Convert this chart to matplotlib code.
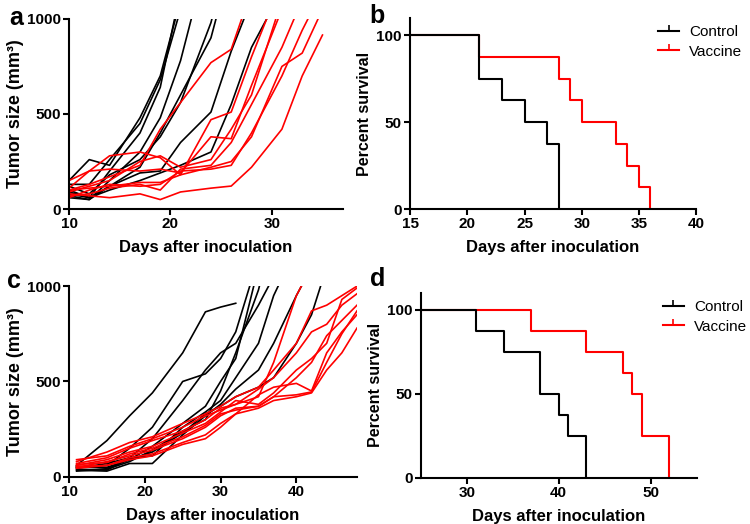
import matplotlib
matplotlib.use('Agg')
import matplotlib.pyplot as plt
from matplotlib.lines import Line2D
import numpy as np

plt.rcParams['font.family'] = ['Liberation Sans', 'DejaVu Sans']

N = np.nan

# ---- panel a: tumor growth, first experiment ----
days_a = [10, 12, 14, 17, 19, 21, 24, 26, 28, 31, 33, 35]
control_a = [
    [150, 260, 230, 480, 700, 1100, N, N, N, N, N, N],
    [130, 130, 260, 450, 680, 1050, N, N, N, N, N, N],
    [100, 60, 200, 400, 640, 1150, N, N, N, N, N, N],
    [70, 50, 150, 300, 480, 780, 1400, N, N, N, N, N],
    [120, 80, 180, 260, 380, 560, 980, 1400, N, N, N, N],
    [90, 60, 120, 220, 400, 600, 900, 1300, N, N, N, N],
    [60, 50, 120, 190, 200, 350, 510, 830, 1100, N, N, N],
    [80, 60, 100, 150, 190, 230, 300, 550, 850, 1150, N, N],
]
vaccine_a = [
    [100, 130, 170, 230, 420, 560, 770, 840, 1150, N, N, N],
    [150, 200, 280, 300, 270, 180, 470, 510, 800, 1200, N, N],
    [110, 200, 210, 200, 210, 190, 380, 370, 650, 1050, N, N],
    [90, 120, 150, 250, 280, 220, 260, 420, 600, 1100, N, N],
    [70, 80, 110, 130, 100, 210, 230, 350, 550, 850, 1100, N],
    [60, 100, 130, 120, 130, 200, 210, 230, 400, 700, 940, 1150],
    [100, 110, 120, 140, 140, 180, 220, 250, 380, 750, 820, 1050],
    [80, 70, 60, 80, 50, 90, 110, 121, 220, 420, 700, 915],
]

# ---- panel b: survival, first experiment ----
surv_b_ctrl_t = [0, 21, 23, 25, 27, 28]
surv_b_ctrl = [100, 75, 62.5, 50, 37.5, 0]
surv_b_vac_t = [0, 21, 28, 29, 30, 33, 34, 35, 36]
surv_b_vac = [100, 87.5, 75, 62.5, 50, 37.5, 25, 12.5, 0]

# ---- panel c: tumor growth, second experiment ----
days_c = [11, 15, 18, 21, 25, 28, 30, 32, 35, 37, 40, 42, 44, 46, 48]
control_c = [
    [60, 190, 320, 440, 650, 865, 890, 910, N, N, N, N, N, N, N],
    [50, 60, 150, 260, 500, 540, 620, 760, 1150, N, N, N, N, N, N],
    [40, 35, 100, 200, 400, 560, 650, 700, 900, 1050, N, N, N, N, N],
    [50, 50, 90, 160, 280, 370, 500, 620, 1100, N, N, N, N, N, N],
    [30, 40, 80, 140, 240, 300, 450, 650, 980, 1300, N, N, N, N, N],
    [45, 70, 100, 110, 260, 340, 400, 520, 700, 950, 1200, N, N, N, N],
    [35, 30, 70, 70, 220, 320, 380, 460, 560, 700, 950, 1100, N, N, N],
    [55, 45, 90, 130, 230, 330, 370, 420, 470, 520, 700, 850, 1100, N, N],
]
vaccine_c = [
    [90, 110, 160, 200, 260, 320, 350, 380, 420, 600, 950, 1100, N, N, N],
    [80, 130, 180, 210, 280, 330, 370, 420, 470, 560, 700, 870, 900, 950, 1000],
    [70, 100, 150, 190, 240, 300, 360, 380, 460, 520, 650, 760, 800, 900, 960],
    [60, 90, 130, 160, 230, 280, 340, 400, 380, 440, 560, 620, 700, 930, 990],
    [50, 80, 110, 140, 200, 260, 320, 360, 370, 420, 520, 600, 740, 820, 900],
    [45, 60, 100, 120, 180, 220, 280, 330, 430, 470, 490, 450, 650, 760, 850],
    [65, 75, 120, 150, 210, 270, 330, 350, 370, 420, 430, 445, 600, 750, 870],
    [55, 60, 90, 110, 170, 200, 260, 330, 360, 400, 420, 440, 560, 650, 780],
]

# ---- panel d: survival, second experiment ----
surv_d_ctrl_t = [0, 31, 34, 38, 40, 41, 43]
surv_d_ctrl = [100, 87.5, 75, 50, 37.5, 25, 0]
surv_d_vac_t = [0, 37, 43, 47, 48, 49, 52]
surv_d_vac = [100, 87.5, 75, 62.5, 50, 25, 0]

BLACK = '#000000'
RED = '#ff0000'


def style_axes(ax):
    for s in ['top', 'right']:
        ax.spines[s].set_visible(False)
    for s in ['left', 'bottom']:
        ax.spines[s].set_linewidth(1.5)
    ax.tick_params(width=1.5, length=4.5, pad=1.5, labelsize=11)
    for lab in ax.get_xticklabels() + ax.get_yticklabels():
        lab.set_fontweight('bold')


def km_steps(times, surv):
    xs, ys = [times[0]], [surv[0]]
    for i in range(1, len(times)):
        xs += [times[i], times[i]]
        ys += [surv[i - 1], surv[i]]
    return xs, ys


def growth_panel(ax, days, ctrl, vac, xlim, xticks):
    for row in ctrl:
        ax.plot(days, row, color=BLACK, lw=1.2)
    for row in vac:
        ax.plot(days, row, color=RED, lw=1.2)
    ax.set_xlim(*xlim)
    ax.set_ylim(0, 1000)
    ax.set_xticks(xticks)
    ax.set_yticks([0, 500, 1000])
    ax.set_xlabel('Days after inoculation', fontsize=12, fontweight='bold', labelpad=6)
    ax.set_ylabel('Tumor size (mm³)', fontsize=13, fontweight='bold', labelpad=2)
    style_axes(ax)


def survival_panel(ax, ct, cs, vt, vs, xlim, xticks, legend_anchor):
    x, y = km_steps(vt, vs)
    ax.plot(x, y, color=RED, lw=1.5)
    x, y = km_steps(ct, cs)
    ax.plot(x, y, color=BLACK, lw=1.5)
    ax.set_xlim(*xlim)
    ax.set_ylim(0, 110)
    ax.set_xticks(xticks)
    ax.set_yticks([0, 50, 100])
    ax.set_xlabel('Days after inoculation', fontsize=12, fontweight='bold', labelpad=6)
    ax.set_ylabel('Percent survival', fontsize=11.5, fontweight='bold', labelpad=3)
    style_axes(ax)
    handles = [Line2D([], [], color=BLACK, lw=1.5, marker=2, markersize=4, markeredgewidth=1.2),
               Line2D([], [], color=RED, lw=1.5, marker=2, markersize=4, markeredgewidth=1.2)]
    leg = ax.legend(handles, ['Control', 'Vaccine'], loc='upper left',
                    bbox_to_anchor=legend_anchor, frameon=False, fontsize=11,
                    handlelength=1.4, handletextpad=0.65, labelspacing=0.35,
                    borderpad=0, borderaxespad=0, numpoints=1)
    leg.set_clip_on(False)


fig = plt.figure(figsize=(7.5, 5.24), dpi=100)

ax_a = fig.add_axes([0.092, 0.601, 0.365, 0.363])
growth_panel(ax_a, days_a, control_a, vaccine_a, (10, 37), [10, 20, 30])

ax_b = fig.add_axes([0.547, 0.601, 0.381, 0.365])
survival_panel(ax_b, surv_b_ctrl_t, surv_b_ctrl, surv_b_vac_t, surv_b_vac,
               (15, 40), [15, 20, 25, 30, 35, 40], (0.867, 0.96))

ax_c = fig.add_axes([0.092, 0.090, 0.384, 0.364])
growth_panel(ax_c, days_c, control_c, vaccine_c, (10, 48), [10, 20, 30, 40])

ax_d = fig.add_axes([0.561, 0.088, 0.368, 0.353])
survival_panel(ax_d, surv_d_ctrl_t, surv_d_ctrl, surv_d_vac_t, surv_d_vac,
               (25, 55), [30, 40, 50], (0.877, 0.96))

for letter, x, y in [('a', 0.012, 0.988), ('b', 0.493, 0.992),
                     ('c', 0.010, 0.486), ('d', 0.493, 0.490)]:
    fig.text(x, y, letter, fontsize=18, fontweight='bold', va='top', ha='left')

fig.savefig('out.png', dpi=100, facecolor='white')
plt.close(fig)
